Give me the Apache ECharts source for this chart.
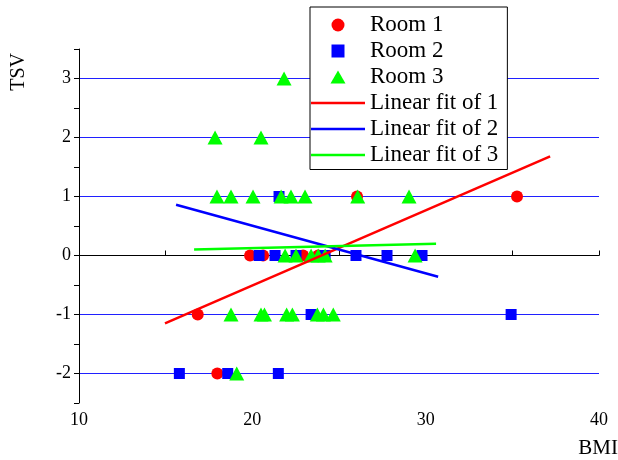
<!DOCTYPE html>
<html>
<head>
<meta charset="utf-8">
<script src="https://cdn.jsdelivr.net/npm/echarts@6/dist/echarts.min.js"></script>
<style>html,body{margin:0;padding:0;background:#fff}#c{width:618px;height:460px}</style>
</head>
<body>
<div id="c"></div>
<script>
// ---- data ----
const room1X = [16.85, 17.98, 19.87, 20.62, 22.93, 23.8, 26.04, 35.27];
const room1Y = [-1, -2, 0, 0, 0, 0, 1, 1];

const room2X = [21.54, 20.39, 21.31, 22.52, 24.2, 25.98, 27.77, 29.79, 23.39, 34.93, 15.79, 18.58, 21.5];
const room2Y = [1, 0, 0, 0, 0, 0, 0, 0, -1, -1, -2, -2, -2];

const room3X = [21.83, 17.85, 20.5, 17.96, 18.77, 20.04, 21.66, 22.23, 23.04, 26.08, 29.04,
                21.89, 22.52, 23.39, 23.8, 24.2, 29.39,
                18.77, 20.5, 20.7, 21.98, 22.31, 23.75, 24.1, 24.67, 19.1];
const room3Y = [3, 2, 2, 1, 1, 1, 1, 1, 1, 1, 1,
                0, 0, 0, 0, 0, 0,
                -1, -1, -1, -1, -1, -1, -1, -1, -2];

const fit1X = [14.96, 37.18], fit1Y = [-1.15, 1.68];
const fit2X = [15.6, 30.72],  fit2Y = [0.86, -0.36];
const fit3X = [16.64, 30.6],  fit3Y = [0.10, 0.20];

const seriesNames = ['Room 1', 'Room 2', 'Room 3', 'Linear fit of 1', 'Linear fit of 2', 'Linear fit of 3'];
const xTicks = [10, 20, 30, 40];
const yTicks = [-2, -1, 0, 1, 2, 3];

const zip = (xs, ys) => xs.map((x, i) => [x, ys[i]]);
const FONT = "'Liberation Serif', 'Times New Roman', serif";

const legendIcons = [
  'circle',
  'path://M0,0H11V11H0Z',
  'path://M7.5,0L15,13H0Z',
  'path://M0,0H54V2.5H0Z',
  'path://M0,0H54V2.5H0Z',
  'path://M0,0H54V2.5H0Z'
];

const chart = echarts.init(document.getElementById('c'), null, {renderer: 'canvas'});
chart.setOption({
  animation: false,
  backgroundColor: '#fff',
  grid: {left: 79, right: 19, top: 49, bottom: 57, containLabel: false},
  xAxis: {
    type: 'value', min: 10, max: 40, interval: 5,
    axisLine: {show: true, lineStyle: {color: '#000', width: 1}},
    axisTick: {show: true, inside: true, length: 5, lineStyle: {color: '#000'}},
    axisLabel: {
      color: '#000', fontFamily: FONT, fontSize: 18, margin: 8,
      formatter: v => xTicks.includes(v) ? String(v) : ''
    },
    splitLine: {show: false}
  },
  yAxis: {
    type: 'value', min: -2.5, max: 3.5, interval: 0.5,
    axisLine: {show: true, onZero: false, lineStyle: {color: '#000', width: 1}},
    axisTick: {show: true, inside: false, length: 5, lineStyle: {color: '#000'}},
    axisLabel: {
      color: '#000', fontFamily: FONT, fontSize: 18, margin: 8,
      formatter: v => yTicks.includes(v) ? String(v) : ''
    },
    splitLine: {show: true, lineStyle: {color: ['rgba(0,0,0,0)', '#2020ff'], width: 1}}
  },
  legend: {
    orient: 'vertical', left: 310, top: 7,
    data: seriesNames.map((n, i) => ({name: n, icon: legendIcons[i]})),
    itemWidth: 54, itemHeight: 13, itemGap: 3,
    symbolKeepAspect: true,
    padding: [6.5, 9, 3, 1],
    borderColor: '#000', borderWidth: 1,
    backgroundColor: '#fff',
    textStyle: {color: '#000', fontFamily: FONT, fontSize: 23},
    selectedMode: false
  },
  graphic: [
    {type: 'text', left: 9, top: 53, rotation: Math.PI / 2,
     style: {text: 'TSV', font: "20px " + FONT, fill: '#000'}},
    {type: 'text', right: 0, top: 438,
     style: {text: 'BMI', font: "21px " + FONT, fill: '#000'}}
  ],
  series: [
    {name: 'Room 1', type: 'scatter', data: zip(room1X, room1Y), symbol: 'circle', symbolSize: 12,
     itemStyle: {color: '#ff0000', opacity: 1}, z: 3},
    {name: 'Room 2', type: 'scatter', data: zip(room2X, room2Y), symbol: 'rect', symbolSize: 11,
     itemStyle: {color: '#0000ff', opacity: 1}, z: 4},
    {name: 'Room 3', type: 'scatter', data: zip(room3X, room3Y), symbol: 'triangle', symbolSize: [15, 14],
     itemStyle: {color: '#00ff00', opacity: 1}, z: 5},
    {name: 'Linear fit of 1', type: 'line', data: zip(fit1X, fit1Y), symbol: 'none',
     lineStyle: {color: '#ff0000', width: 2.5}, itemStyle: {color: '#ff0000'}, z: 6},
    {name: 'Linear fit of 2', type: 'line', data: zip(fit2X, fit2Y), symbol: 'none',
     lineStyle: {color: '#0000ff', width: 2.5}, itemStyle: {color: '#0000ff'}, z: 6},
    {name: 'Linear fit of 3', type: 'line', data: zip(fit3X, fit3Y), symbol: 'none',
     lineStyle: {color: '#00ff00', width: 2.5}, itemStyle: {color: '#00ff00'}, z: 6}
  ]
});
</script>
</body>
</html>
